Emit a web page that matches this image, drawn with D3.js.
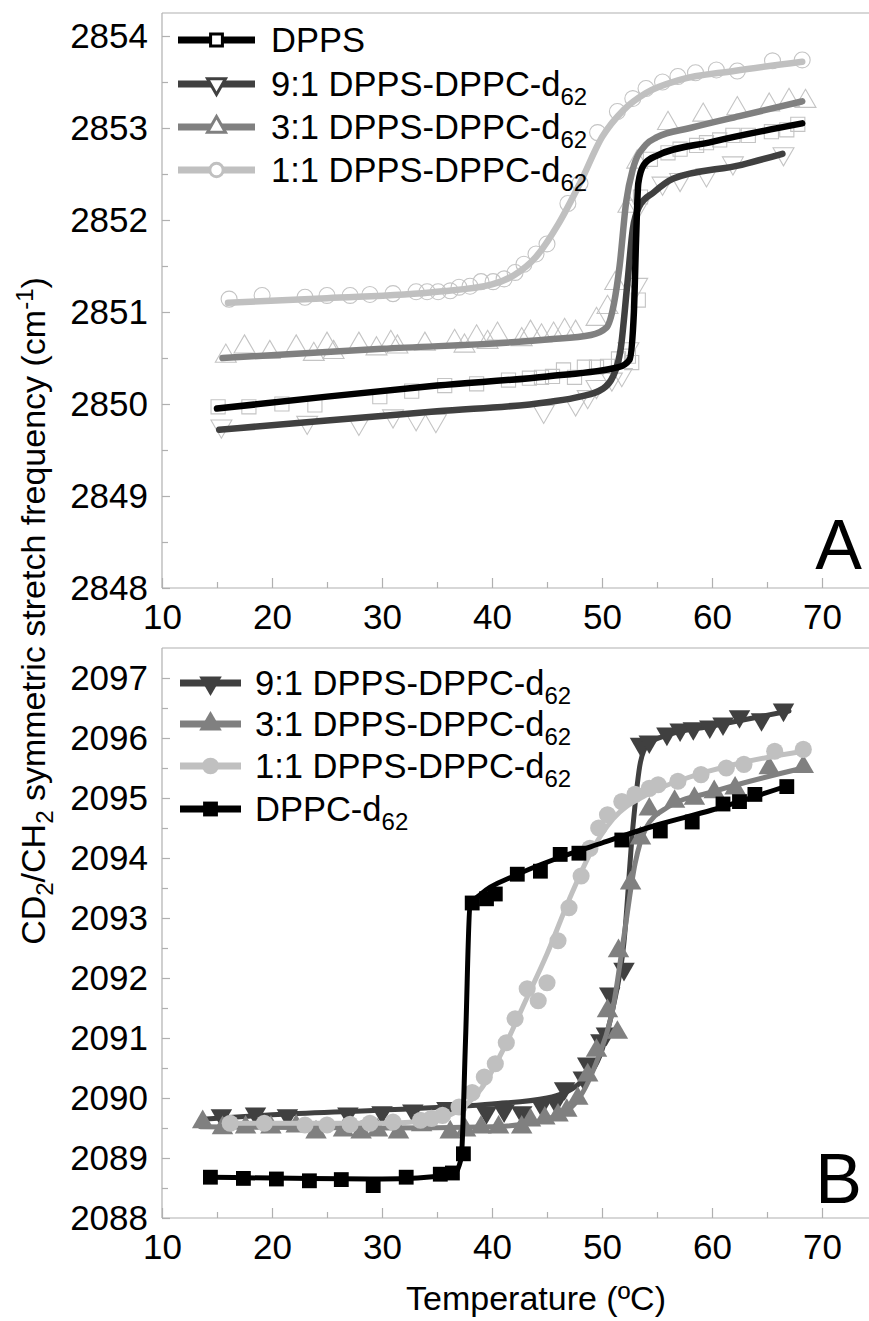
<!DOCTYPE html>
<html>
<head>
<meta charset="utf-8">
<script src="https://cdn.jsdelivr.net/npm/d3@7"></script>
<style>
body { margin: 0; background: #fff; }
svg { font-family: "Liberation Sans", Arial, sans-serif; }
</style>
</head>
<body>
<svg id="chart" width="869" height="1321"></svg>
<script>
// ---- data (temperature in C, frequency in cm-1) ----
var xTicks = [10, 20, 30, 40, 50, 60, 70];
var yTicksA = [2848, 2849, 2850, 2851, 2852, 2853, 2854];
var yTicksB = [2088, 2089, 2090, 2091, 2092, 2093, 2094, 2095, 2096, 2097];

// panel A: measured points (hollow markers)
var dppsA = [[15.1,2849.97],[17.9,2849.97],[20.9,2850.0],[23.9,2849.99],[29.8,2850.08],[32.7,2850.14],
  [35.7,2850.2],[38.6,2850.22],[41.5,2850.26],[43.4,2850.28],[44.5,2850.29],[45.5,2850.3],[46.5,2850.37],
  [47.5,2850.29],[48.4,2850.4],[49.5,2850.4],[50.5,2850.41],[51.5,2850.49],[52.4,2850.52],[52.7,2850.45],
  [53.3,2851.13],[53.5,2852.25],[54.4,2852.66],[56.0,2852.73],[57.1,2852.77],[58.6,2852.81],[59.5,2852.84],
  [60.7,2852.87],[61.9,2852.92],[63.3,2852.92],[65.4,2852.96],[66.8,2852.98],[67.8,2853.04]];
var p91A = [[15.4,2849.76],[23.2,2849.8],[27.9,2849.79],[31.0,2849.87],[33.1,2849.84],[34.9,2849.82],
  [44.7,2849.92],[47.6,2850.0],[48.7,2850.08],[49.5,2850.19],[50.9,2850.27],[51.8,2850.32],[52.4,2850.6],
  [53.2,2851.3],[53.3,2852.15],[55.5,2852.4],[57.1,2852.44],[59.5,2852.49],[61.9,2852.62],[66.5,2852.72]];
var p31A = [[15.8,2850.52],[17.5,2850.62],[19.8,2850.56],[22.2,2850.62],[23.8,2850.54],[25.0,2850.65],
  [25.6,2850.56],[27.9,2850.65],[29.5,2850.6],[30.8,2850.67],[31.4,2850.62],[33.9,2850.65],[36.6,2850.68],
  [37.5,2850.63],[38.6,2850.73],[39.6,2850.67],[40.5,2850.76],[42.7,2850.7],[43.5,2850.78],[44.5,2850.74],
  [45.6,2850.76],[46.6,2850.8],[47.6,2850.78],[49.5,2850.92],[50.5,2851.05],[51.2,2851.31],[52.4,2852.15],
  [53.2,2852.63],[56.0,2853.05],[59.2,2853.14],[62.3,2853.21],[65.2,2853.25],[67.0,2853.3],[68.5,2853.29]];
var p11A = [[16.1,2851.14],[19.1,2851.18],[23.0,2851.16],[25.0,2851.18],[27.1,2851.18],[28.9,2851.19],
  [31.0,2851.2],[33.1,2851.22],[34.1,2851.22],[35.1,2851.22],[36.2,2851.23],[37.0,2851.27],[38.0,2851.28],
  [39.0,2851.33],[40.1,2851.33],[41.1,2851.36],[42.1,2851.43],[42.9,2851.52],[44.0,2851.63],[45.0,2851.74],
  [46.9,2852.18],[48.0,2852.4],[49.6,2852.95],[51.4,2853.18],[52.8,2853.32],[54.0,2853.43],[55.5,2853.5],
  [56.9,2853.56],[58.5,2853.6],[60.4,2853.63],[62.3,2853.62],[65.5,2853.73],[68.2,2853.74]];

// panel A: fitted curves
var dppsFitA = [[15,2849.95],[25,2850.08],[35,2850.2],[45,2850.3],[51.5,2850.4],[52.5,2850.48],[52.9,2851.0],
  [53.1,2851.8],[53.3,2852.4],[53.8,2852.6],[55,2852.7],[60,2852.85],[68.2,2853.05]];
var fit91A = [[15.2,2849.72],[25,2849.82],[35,2849.92],[45,2850.02],[48,2850.08],[50,2850.16],[51,2850.3],
  [51.7,2850.6],[52.3,2851.3],[52.8,2851.9],[53.4,2852.15],[54.7,2852.3],[56.5,2852.45],[62.7,2852.6],[66.4,2852.72]];
var fit31A = [[15.5,2850.5],[30,2850.6],[45,2850.7],[49,2850.75],[50.4,2850.83],[51.1,2851.1],[51.6,2851.5],
  [52.2,2852.2],[52.8,2852.55],[54,2852.82],[55,2852.9],[58,2853.0],[62.5,2853.13],[68.2,2853.29]];
var fit11A = [[16,2851.1],[25,2851.15],[35,2851.22],[40,2851.3],[42,2851.4],[44,2851.6],[46,2851.95],
  [48,2852.4],[50,2852.9],[52,2853.2],[54,2853.38],[57,2853.52],[62,2853.62],[68.2,2853.72]];

// panel B: measured points (filled markers)
var p91B = [[15.4,2089.71],[18.5,2089.74],[21.4,2089.71],[26.9,2089.74],[30.0,2089.76],[32.8,2089.79],
  [35.9,2089.83],[39.5,2089.76],[41.1,2089.79],[42.7,2089.76],[44.5,2089.88],[45.8,2089.93],[46.6,2090.16],
  [48.3,2090.34],[48.7,2090.57],[49.9,2090.96],[50.4,2091.07],[50.7,2091.74],[52.0,2092.15],[53.5,2095.9],
  [54.3,2095.94],[55.9,2096.07],[57.1,2096.14],[58.3,2096.16],[59.8,2096.19],[61.0,2096.24],[62.5,2096.36],
  [64.5,2096.31],[66.5,2096.47]];
var p31B = [[13.7,2089.6],[15.5,2089.5],[17.6,2089.51],[19.9,2089.51],[22.2,2089.53],[24.0,2089.43],
  [26.5,2089.46],[28.1,2089.43],[29.6,2089.46],[31.5,2089.43],[33.6,2089.55],[36.2,2089.43],[37.6,2089.46],
  [39.0,2089.51],[40.6,2089.51],[42.7,2089.51],[43.5,2089.63],[44.8,2089.66],[46.0,2089.71],[46.8,2089.79],
  [47.8,2089.99],[48.7,2090.38],[49.5,2090.79],[50.5,2091.45],[51.4,2091.09],[51.5,2092.45],[52.6,2093.58],
  [53.5,2094.33],[54.3,2094.81],[56.6,2094.94],[58.4,2094.99],[60.2,2095.1],[62.1,2095.16],[65.2,2095.5],[68.3,2095.52]];
var p11B = [[16.2,2089.58],[19.3,2089.58],[23.0,2089.55],[25.0,2089.55],[27.1,2089.56],[28.9,2089.58],
  [31.0,2089.6],[33.5,2089.63],[34.5,2089.66],[35.5,2089.71],[37.0,2089.85],[38.2,2090.09],[39.3,2090.35],
  [40.3,2090.57],[41.3,2090.92],[42.1,2091.32],[43.2,2091.82],[44.2,2091.62],[45.0,2091.92],[46.0,2092.62],
  [47.0,2093.17],[48.1,2093.7],[48.9,2094.16],[49.7,2094.5],[50.5,2094.72],[51.8,2094.94],[53.0,2095.06],
  [54.3,2095.16],[55.1,2095.22],[56.9,2095.28],[59.0,2095.39],[61.3,2095.5],[62.9,2095.56],[65.7,2095.78],[68.3,2095.81]];
var dppcB = [[14.4,2088.68],[17.4,2088.66],[20.4,2088.65],[23.4,2088.62],[26.3,2088.64],[29.2,2088.54],
  [32.2,2088.68],[35.3,2088.73],[36.4,2088.75],[37.4,2089.07],[38.2,2093.25],[39.5,2093.32],[40.3,2093.4],
  [42.3,2093.73],[44.4,2093.78],[46.2,2094.06],[47.9,2094.08],[51.8,2094.3],[55.3,2094.45],[58.2,2094.6],
  [61.0,2094.9],[62.5,2094.94],[63.9,2095.06],[66.8,2095.19]];

// panel B: fitted curves
var fit91B = [[14,2089.65],[20,2089.72],[30,2089.8],[40,2089.9],[45,2090.0],[48,2090.25],[50,2090.8],
  [51,2091.5],[52,2092.6],[52.8,2094.5],[53.5,2095.6],[54.2,2095.9],[56,2096.05],[60,2096.2],[67,2096.45]];
var fit31B = [[13.5,2089.52],[30,2089.5],[40,2089.52],[45,2089.65],[47.5,2089.9],[49.5,2090.6],[51,2091.5],
  [52,2092.7],[53,2093.9],[54,2094.5],[56,2094.85],[60,2095.1],[68.3,2095.5]];
var fit11B = [[16,2089.58],[30,2089.58],[35,2089.65],[37,2089.8],[39,2090.15],[41,2090.8],[43,2091.6],
  [45,2092.4],[47,2093.3],[49,2094.1],[51,2094.65],[54,2095.05],[58,2095.35],[63,2095.6],[68.3,2095.78]];
var dppcFitB = [[14.4,2088.68],[30,2088.65],[36.5,2088.72],[37.2,2089.0],[37.6,2091.0],[38.0,2093.2],
  [39,2093.4],[42,2093.7],[46,2094.0],[50,2094.25],[55,2094.55],[60,2094.8],[66.8,2095.2]];

var legendA = [["DPPS", ""], ["9:1 DPPS-DPPC-d", "62"], ["3:1 DPPS-DPPC-d", "62"], ["1:1 DPPS-DPPC-d", "62"]];
var legendB = [["9:1 DPPS-DPPC-d", "62"], ["3:1 DPPS-DPPC-d", "62"], ["1:1 DPPS-DPPC-d", "62"], ["DPPC-d", "62"]];

// ---- layout ----
var svg = d3.select("#chart");
var frameColor = "#b0b0b0";
var x = d3.scaleLinear().domain([10, 70]).range([162, 822]);
var yA = d3.scaleLinear().domain([2848, 2854.25]).range([588, 13]);
var yB = d3.scaleLinear().domain([2088, 2097.5]).range([1218, 648]);

var symSquare = d3.symbolSquare, symTri = d3.symbolTriangle, symCircle = d3.symbolCircle;

function drawAxes(y, ticks) {
    var g = svg.append("g");
    var top = y.range()[1], bottom = y.range()[0];
    // frame
    g.append("line").attr("x1", x(10)).attr("x2", 869).attr("y1", top).attr("y2", top)
        .attr("stroke", frameColor).attr("stroke-width", 1.2);
    g.append("line").attr("x1", x(10)).attr("x2", x(10)).attr("y1", top).attr("y2", bottom)
        .attr("stroke", frameColor).attr("stroke-width", 1.2);

    var minorY = d3.range(ticks[0] + 0.5, y.domain()[1], 1);
    var ay = g.append("g").attr("transform", "translate(" + x(10) + ",0)")
        .call(d3.axisLeft(y).tickValues(ticks).tickSize(-8).tickPadding(14).tickFormat(d3.format("d")));
    g.append("g").attr("transform", "translate(" + x(10) + ",0)")
        .call(d3.axisLeft(y).tickValues(minorY).tickSize(-6).tickFormat(""))
        .select(".domain").remove();
    ay.select(".domain").remove();
    ay.selectAll(".tick text").attr("font-size", 35);

    var ax = g.append("g").attr("transform", "translate(0," + bottom + ")")
        .call(d3.axisBottom(x).tickValues(xTicks).tickSize(-10).tickPadding(16).tickFormat(d3.format("d")));
    ax.select(".domain").attr("d", "M" + x(10) + ",0H869");
    ax.selectAll(".tick text").attr("font-size", 35);
    g.append("g").attr("transform", "translate(0," + bottom + ")")
        .call(d3.axisBottom(x).tickValues([15, 25, 35, 45, 55, 65, 75]).tickSize(-6).tickFormat(""))
        .select(".domain").remove();

    g.selectAll(".tick line").attr("stroke", frameColor).attr("stroke-width", 1.2);
    g.selectAll(".domain").attr("stroke", frameColor).attr("stroke-width", 1.2);
    g.selectAll(".tick text").attr("fill", "#000")
        .attr("font-family", "Liberation Sans, Arial, sans-serif");
}

function drawLine(y, pts, color, w) {
    var line = d3.line().x(function (d) { return x(d[0]); }).y(function (d) { return y(d[1]); })
        .curve(d3.curveMonotoneX);
    svg.append("path").datum(pts).attr("d", line)
        .attr("fill", "none").attr("stroke", color).attr("stroke-width", w)
        .attr("stroke-linecap", "round").attr("stroke-linejoin", "round");
}

function drawMarks(y, pts, type, size, rot, fill, stroke, sw) {
    svg.append("g").selectAll("path").data(pts).enter().append("path")
        .attr("d", d3.symbol().type(type).size(size))
        .attr("transform", function (d) {
            return "translate(" + x(d[0]) + "," + y(d[1]) + ") rotate(" + rot + ")";
        })
        .attr("fill", fill).attr("stroke", stroke).attr("stroke-width", sw);
}

function legendRow(x0, x1, cy, color, lw, type, size, rot, fill, stroke, sw, label, textX) {
    svg.append("line").attr("x1", x0).attr("x2", x1).attr("y1", cy).attr("y2", cy)
        .attr("stroke", color).attr("stroke-width", lw);
    svg.append("path").attr("d", d3.symbol().type(type).size(size))
        .attr("transform", "translate(" + ((x0 + x1) / 2) + "," + cy + ") rotate(" + rot + ")")
        .attr("fill", fill).attr("stroke", stroke).attr("stroke-width", sw);
    var t = svg.append("text").attr("x", textX).attr("y", cy + 12).attr("font-size", 34.5).attr("fill", "#000");
    t.append("tspan").text(label[0]);
    if (label[1]) {
        t.append("tspan").attr("font-size", 24).attr("dy", 9).text(label[1]);
    }
}

// ---- panel A ----
drawAxes(yA, yTicksA);
var hollow = "#c4c4c4";
drawMarks(yA, p11A, symCircle, 200, 0, "none", hollow, 1.1);
drawMarks(yA, p31A, symTri, 190, 0, "none", hollow, 1.1);
drawMarks(yA, p91A, symTri, 190, 180, "none", hollow, 1.1);
drawMarks(yA, dppsA, symSquare, 200, 0, "none", hollow, 1.1);
drawLine(yA, fit11A, "#c0c0c0", 6.5);
drawLine(yA, fit31A, "#808080", 6.5);
drawLine(yA, fit91A, "#404040", 6.5);
drawLine(yA, dppsFitA, "#000", 6.5);

var colA = ["#000", "#404040", "#808080", "#c0c0c0"];
var symA = [[symSquare, 0], [symTri, 180], [symTri, 0], [symCircle, 0]];
var rowA = [40, 84, 127, 170];
legendA.forEach(function (lab, i) {
    legendRow(178, 255, rowA[i], colA[i], 7, symA[i][0], 140, symA[i][1], "#fff", colA[i], 3, lab, 271);
});
svg.append("text").attr("x", 862).attr("y", 569).attr("text-anchor", "end")
    .attr("font-size", 70).text("A");

// ---- panel B ----
drawAxes(yB, yTicksB);
drawLine(yB, fit91B, "#404040", 5);
drawMarks(yB, p91B, symTri, 200, 180, "#404040", "none", 0);
drawLine(yB, fit31B, "#808080", 5);
drawMarks(yB, p31B, symTri, 200, 0, "#808080", "none", 0);
drawLine(yB, fit11B, "#c0c0c0", 5);
drawMarks(yB, p11B, symCircle, 230, 0, "#c0c0c0", "none", 0);
drawLine(yB, dppcFitB, "#000", 5);
drawMarks(yB, dppcB, symSquare, 220, 0, "#000", "none", 0);

var colB = ["#404040", "#808080", "#c0c0c0", "#000"];
var symB = [[symTri, 180], [symTri, 0], [symCircle, 0], [symSquare, 0]];
var rowB = [683, 724, 766, 809];
legendB.forEach(function (lab, i) {
    legendRow(180, 241, rowB[i], colB[i], 7, symB[i][0], 220, symB[i][1], colB[i], "none", 0, lab, 255);
});
svg.append("text").attr("x", 862).attr("y", 1203).attr("text-anchor", "end")
    .attr("font-size", 70).text("B");

// ---- axis titles ----
svg.append("text").attr("x", 536).attr("y", 1310).attr("text-anchor", "middle")
    .attr("font-size", 34).text("Temperature (\u00baC)");

var yt = svg.append("text").attr("transform", "translate(45,611) rotate(-90)")
    .attr("text-anchor", "middle").attr("font-size", 34);
yt.append("tspan").text("CD");
yt.append("tspan").attr("font-size", 24).attr("dy", 8).text("2");
yt.append("tspan").attr("dy", -8).text("/CH");
yt.append("tspan").attr("font-size", 24).attr("dy", 8).text("2");
yt.append("tspan").attr("dy", -8).text(" symmetric stretch frequency (cm");
yt.append("tspan").attr("font-size", 24).attr("dy", -12).text("-1");
yt.append("tspan").attr("dy", 12).text(")");
</script>
</body>
</html>
